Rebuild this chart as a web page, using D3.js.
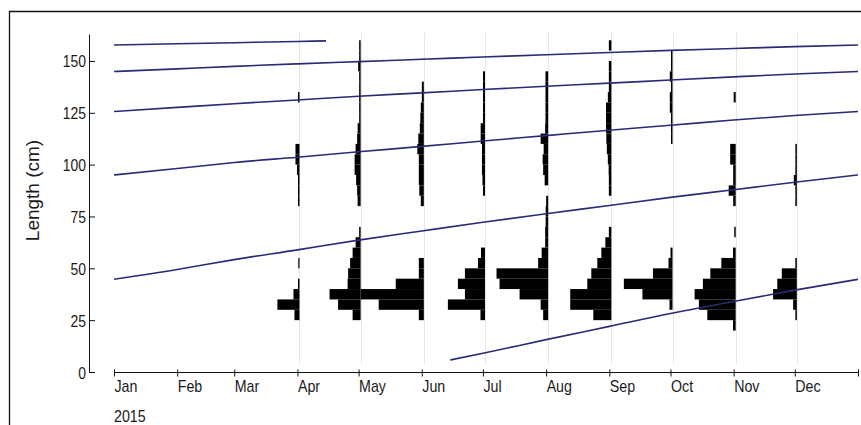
<!DOCTYPE html>
<html>
<head>
<meta charset="utf-8">
<script src="https://cdn.jsdelivr.net/npm/d3@7"></script>
<style>
  body { margin: 0; background: #fff; }
  svg { display: block; }
  text { font-family: "Liberation Sans", Arial, sans-serif; fill: #1a1a1a; }
</style>
</head>
<body>
<svg id="chart" width="861" height="425"></svg>
<script>
// ---------------- DATA ----------------
const monthTicks = ["2015-01-01","2015-02-01","2015-03-01","2015-04-01","2015-05-01","2015-06-01",
  "2015-07-01","2015-08-01","2015-09-01","2015-10-01","2015-11-01","2015-12-01","2016-01-01"];
const monthLabels = ["Jan","Feb","Mar","Apr","May","Jun","Jul","Aug","Sep","Oct","Nov","Dec",""];
const yearLabel = "2015";
const yTicks = [0, 25, 50, 75, 100, 125, 150];
const yLabel = "Length (cm)";

// length classes (lower bound, cm), class width 5 cm
const binLower = [20,25,30,35,40,45,50,55,60,65,70,75,80,85,90,95,100,105,110,115,120,125,130,135,140,145,150,155,160];
const binWidth = 5;

const sampleDates = ["2015-04-02","2015-05-02","2015-06-02","2015-07-02","2015-08-02",
  "2015-09-02","2015-10-02","2015-11-02","2015-12-02"];

// relative frequencies per length class, one array per sample
const freqApr = [0,5,22,6,1.5,0,1.2,0,0,0,0,0,1.5,1.5,1.5,2.5,4,4,0,0,0,0,1.5,0,0,0,0,0,0];
const freqMay = [0,8,22.5,31,13,12.5,10.5,8,5,1.5,0,0,3,3.5,4.5,6,6,5,3.5,3,1.5,1.5,1.5,1.5,1.5,2.5,1.5,1.5,0];
const freqJun = [0,5,45,63,28,5,5,0,0,0,0,0,3,4.5,5,5,5,6.5,5.5,4,3.5,3,2,2,0,0,0,0,0];
const freqJul = [0,4.5,37,20,27,20,7,4,0,0,0,0,0,2,2.5,3,3,3,4.3,4.3,2,2,2,2,2,0,0,0,0];
const freqAug = [0,5,7.5,28.5,48.5,51.5,10,6.5,3,3,2.5,2.5,2,0,3.5,5,5.5,4.5,7.5,3,2.7,2.7,2.7,2.7,2.7,0,0,0,0];
const freqSep = [0,18,41,41,24,20,14,10,6,2.5,0,0,0,2.5,2.5,2.7,3.5,4.5,5,5.3,5.3,5.3,3.5,2.5,2.5,2.5,0,2.5,0];
const freqOct = [0,0,3,30,48.5,19.5,4,2,0,0,0,0,0,0,0,0,0,0,1.5,1.5,1.5,2.7,2.7,1.5,2.7,1.5,1.5,0,0];
const freqNov = [2.7,28.3,36.7,41,32.7,25.3,14.3,2.7,0,1.5,0,0,2.5,7,2.5,2.5,5.5,5.5,0,0,0,0,2,0,0,0,0,0,0];
const freqDec = [0,1.5,3.7,23.7,19.5,15,1.5,0,0,0,0,0,1.5,1.5,3,1.5,1.5,1.5,0,0,0,0,0,0,0,0,0,0,0];
const sampleFreqs = [freqApr, freqMay, freqJun, freqJul, freqAug, freqSep, freqOct, freqNov, freqDec];

// growth curves (cohorts): [date, length cm]
const cohortA = [["2015-01-01",157.7],["2015-02-01",158.3],["2015-03-01",158.8],["2015-04-01",159.4],["2015-04-15",159.7]];
const cohortB = [["2015-01-01",144.9],["2015-02-01",146.2],["2015-03-01",147.4],["2015-04-01",148.6],["2015-05-01",149.7],
  ["2015-06-01",150.8],["2015-07-01",151.9],["2015-08-01",153.0],["2015-09-01",154.1],["2015-10-01",155.1],
  ["2015-11-01",156.0],["2015-12-01",156.9],["2016-01-01",157.7]];
const cohortC = [["2015-01-01",125.6],["2015-02-01",127.6],["2015-03-01",129.4],["2015-04-01",131.2],["2015-05-01",133.0],
  ["2015-06-01",134.6],["2015-07-01",136.2],["2015-08-01",137.8],["2015-09-01",139.3],["2015-10-01",140.8],
  ["2015-11-01",142.3],["2015-12-01",143.7],["2016-01-01",144.9]];
const cohortD = [["2015-01-01",95.0],["2015-02-01",98.1],["2015-03-01",101.0],["2015-04-01",103.6],["2015-05-01",106.2],
  ["2015-06-01",108.8],["2015-07-01",111.4],["2015-08-01",114.0],["2015-09-01",116.6],["2015-10-01",119.0],
  ["2015-11-01",121.5],["2015-12-01",123.7],["2016-01-01",125.6]];
const cohortE = [["2015-01-01",44.7],["2015-02-01",49.4],["2015-03-01",54.2],["2015-04-01",58.9],["2015-05-01",63.6],
  ["2015-06-01",68.0],["2015-07-01",72.2],["2015-08-01",76.3],["2015-09-01",80.3],["2015-10-01",84.2],
  ["2015-11-01",87.9],["2015-12-01",91.5],["2016-01-01",95.0]];
const cohortF = [["2015-06-15",5.8],["2015-07-01",9.0],["2015-08-01",15.6],["2015-09-01",22.0],["2015-10-01",28.2],
  ["2015-11-01",34.0],["2015-12-01",39.5],["2016-01-01",44.7]];
const cohorts = [cohortA, cohortB, cohortC, cohortD, cohortE, cohortF];

// ---------------- CHART ----------------
const parse = d3.timeParse("%Y-%m-%d");
const svg = d3.select("#chart");

const x = d3.scaleTime()
  .domain([parse(monthTicks[0]), parse(monthTicks[monthTicks.length - 1])])
  .range([114, 858]);
const y = d3.scaleLinear().domain([0, 163]).range([372, 34]);

// frame
svg.append("line").attr("x1", 9.5).attr("x2", 9.5).attr("y1", 11).attr("y2", 425)
  .attr("stroke", "#111").attr("stroke-width", 1.3);
svg.append("line").attr("x1", 9).attr("x2", 861).attr("y1", 11.5).attr("y2", 11.5)
  .attr("stroke", "#111").attr("stroke-width", 1.3);

// sample date guide lines
svg.append("g").selectAll("line").data(sampleDates).join("line")
  .attr("x1", d => Math.round(x(parse(d))) + 0.5)
  .attr("x2", d => Math.round(x(parse(d))) + 0.5)
  .attr("y1", y(163.5)).attr("y2", y(4))
  .attr("stroke", "#e6e6e6").attr("stroke-width", 1);

// histogram bars (extending left from sample date)
const monthWidth = x(parse(monthTicks[1])) - x(parse(monthTicks[0]));
const maxFreq = d3.max(sampleFreqs, a => d3.max(a));
const w = d3.scaleLinear().domain([0, maxFreq]).range([0, monthWidth]);

const bars = [];
sampleDates.forEach((d, i) => {
  sampleFreqs[i].forEach((f, j) => {
    if (f > 0) bars.push({ date: parse(d), lo: binLower[j], f });
  });
});
svg.append("g").selectAll("rect").data(bars).join("rect")
  .attr("x", d => x(d.date) - w(d.f))
  .attr("width", d => w(d.f))
  .attr("y", d => y(d.lo + binWidth))
  .attr("height", d => y(d.lo) - y(d.lo + binWidth))
  .attr("fill", "#000");

// growth curves
const line = d3.line()
  .x(d => x(parse(d[0])))
  .y(d => y(d[1]))
  .curve(d3.curveMonotoneX);
svg.append("g").selectAll("path").data(cohorts).join("path")
  .attr("d", line)
  .attr("fill", "none")
  .attr("stroke", "#2a2a76")
  .attr("stroke-width", 1.6);

// x axis
const xAxis = d3.axisBottom(x)
  .tickValues(monthTicks.map(parse))
  .tickFormat((d, i) => monthLabels[i])
  .tickSizeOuter(0);
const gx = svg.append("g").attr("transform", "translate(0,372)").call(xAxis);
gx.select(".domain").attr("stroke", "#111");
gx.selectAll(".tick line").attr("y1", -2.5).attr("y2", 4.5).attr("stroke", "#111");
gx.selectAll(".tick text")
  .attr("x", 0).attr("y", 20).attr("dy", null)
  .attr("text-anchor", "start")
  .attr("transform", "scale(0.89,1)")
  .style("font-size", "16px")
  .attr("fill", "#1a1a1a");

svg.append("text")
  .attr("transform", `translate(${x(parse(monthTicks[0]))},422) scale(0.89,1)`)
  .style("font-size", "16px")
  .text(yearLabel);

// y axis
const yAxis = d3.axisLeft(y)
  .tickValues(yTicks)
  .tickSizeInner(-6)
  .tickSizeOuter(0)
  .tickPadding(0);
const gy = svg.append("g").attr("transform", "translate(89,0)").call(yAxis);
gy.select(".domain").attr("stroke", "#111");
gy.selectAll(".tick line").attr("stroke", "#111");
gy.selectAll(".tick text")
  .attr("x", 0).attr("dy", null).attr("y", 6)
  .attr("text-anchor", "end")
  .attr("transform", "translate(-3,0) scale(0.87,1)")
  .style("font-size", "16px")
  .attr("fill", "#1a1a1a");

svg.append("text")
  .attr("transform", "translate(39,190.5) rotate(-90)")
  .attr("text-anchor", "middle")
  .style("font-size", "19px")
  .text(yLabel);
</script>
</body>
</html>
